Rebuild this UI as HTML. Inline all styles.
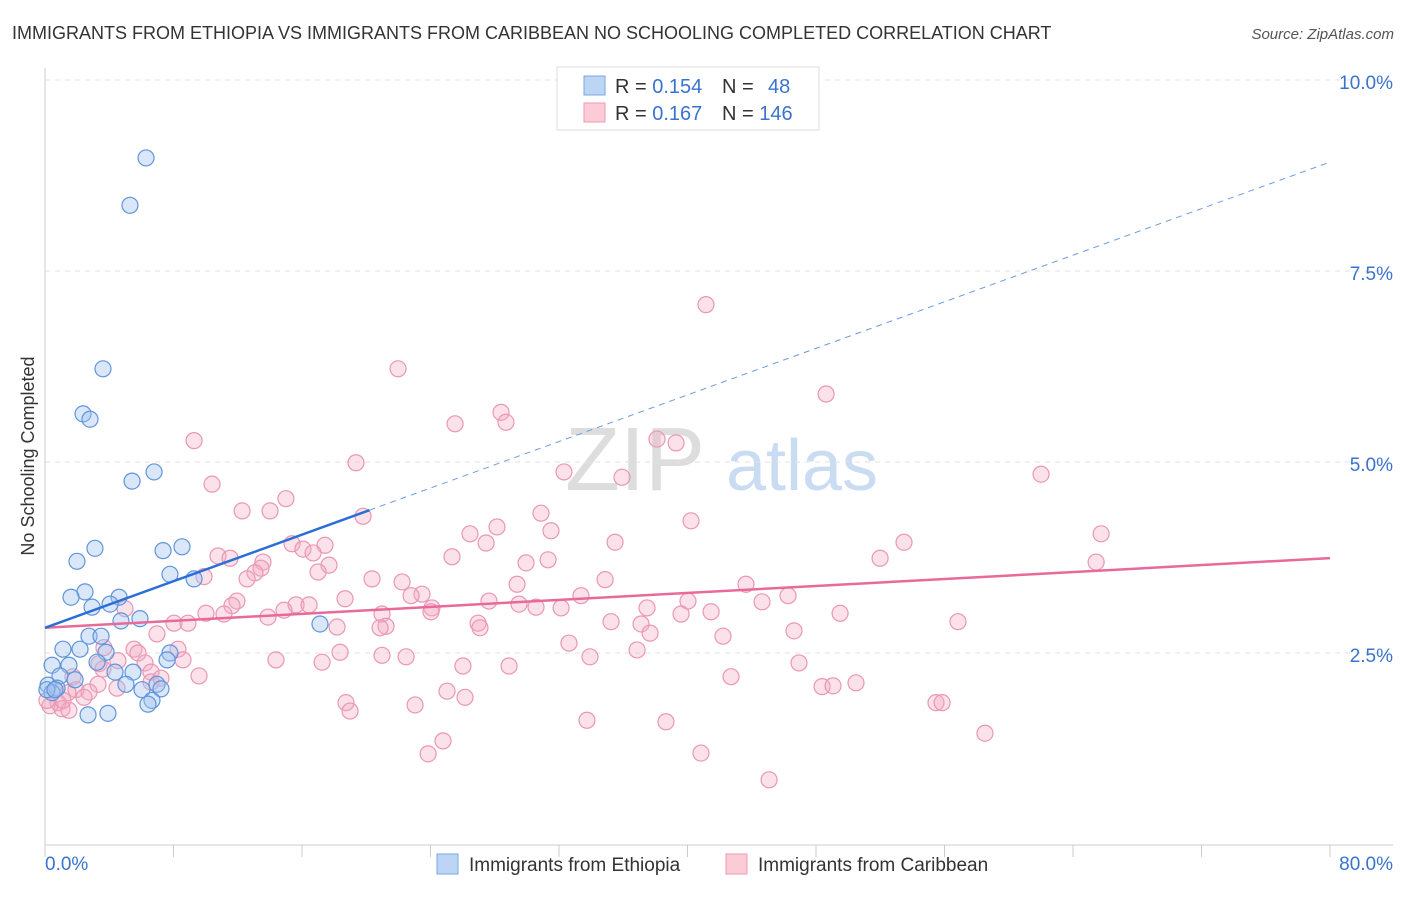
<!DOCTYPE html>
<html><head><meta charset="utf-8"><style>
body{margin:0;background:#fff;font-family:"Liberation Sans",sans-serif}
svg text{font-family:"Liberation Sans",sans-serif}
</style></head><body>
<svg id="chart" width="1406" height="892">
<text x="12" y="39" font-size="18" fill="#333">IMMIGRANTS FROM ETHIOPIA VS IMMIGRANTS FROM CARIBBEAN NO SCHOOLING COMPLETED CORRELATION CHART</text>
<text x="1394" y="39" font-size="15" fill="#555" font-style="italic" text-anchor="end">Source: ZipAtlas.com</text>
<text transform="translate(34,456) rotate(-90)" font-size="18" fill="#333" text-anchor="middle">No Schooling Completed</text>
<g><text x="635" y="490" font-size="90" fill="#ddd" font-family="Liberation Serif" text-anchor="middle">ZIP</text><text x="802" y="490" font-size="72" fill="#c9dcf2" text-anchor="middle">atlas</text></g>
<g id="grid"></g><g id="axes"></g><g id="marks"></g><g id="lines"></g>
<g>
<rect x="557" y="67" width="262" height="63" fill="#fff" stroke="#ddd"/>
<rect x="584" y="76" width="21" height="19" fill="#bcd5f5" stroke="#7aa7e5"/>
<rect x="584" y="103" width="21" height="19" fill="#fbcbd8" stroke="#ec9ab3"/>
<text x="615" y="93" font-size="20" fill="#333">R = <tspan fill="#3a73cf">0.154</tspan></text>
<text x="722" y="93" font-size="20" fill="#333">N = <tspan x="768" fill="#3a73cf">48</tspan></text>
<text x="615" y="120" font-size="20" fill="#333">R = <tspan fill="#3a73cf">0.167</tspan></text>
<text x="722" y="120" font-size="20" fill="#333">N = <tspan fill="#3a73cf">146</tspan></text>
</g>
<g>
<rect x="437" y="854" width="21" height="20" fill="#bcd5f5" stroke="#7aa7e5"/>
<text x="469" y="871" font-size="19" fill="#333">Immigrants from Ethiopia</text>
<rect x="726" y="854" width="21" height="20" fill="#fbcbd8" stroke="#ec9ab3"/>
<text x="758" y="871" font-size="19" fill="#333">Immigrants from Caribbean</text>
</g>
</svg>
<script>
const blueX=[6.29,5.29,3.61,2.37,2.80,6.79,5.42,1.99,3.11,7.35,8.53,7.78,9.28,2.49,1.62,2.93,4.61,4.05,5.91,4.73,17.12,2.74,3.49,1.12,2.18,3.80,7.78,7.60,0.44,1.49,3.24,5.48,4.36,0.93,1.87,0.19,0.75,0.44,5.04,6.97,7.22,6.04,6.66,6.41,2.68,3.92,0.12,0.62];
const blueY=[8.98,8.36,6.22,5.63,5.56,4.87,4.75,3.70,3.87,3.84,3.89,3.53,3.47,3.30,3.23,3.10,3.23,3.14,2.95,2.92,2.88,2.72,2.72,2.55,2.55,2.51,2.50,2.41,2.34,2.34,2.38,2.25,2.25,2.20,2.15,2.08,2.04,1.98,2.09,2.09,2.03,2.02,1.88,1.83,1.69,1.71,2.02,2.02];
const pinkX=[41.15,21.98,48.63,28.39,28.70,25.53,9.28,38.10,39.29,19.36,32.31,62.01,35.92,10.40,15.00,12.27,14.01,30.88,19.80,40.22,28.14,26.46,65.75,31.50,27.46,35.49,15.38,17.43,53.48,10.77,11.52,13.57,16.06,16.69,25.34,29.95,31.32,51.99,65.44,17.68,17.00,13.45,13.07,9.90,12.58,20.36,29.39,22.23,34.87,43.64,23.47,22.79,18.68,33.37,27.64,40.03,46.26,29.51,44.64,11.95,11.64,15.63,16.44,10.02,11.14,14.88,13.88,24.09,24.03,30.57,32.13,37.48,39.60,41.47,49.50,4.98,20.98,21.23,20.86,18.18,8.03,8.90,26.96,27.08,35.24,37.11,56.84,37.67,6.97,42.21,46.63,32.62,3.67,5.54,8.28,5.79,18.37,20.98,22.48,36.86,33.93,14.38,8.59,6.23,17.25,26.02,28.89,4.54,3.36,3.61,6.60,1.74,9.59,42.71,46.94,48.38,49.06,50.49,4.48,3.30,6.60,7.22,1.93,2.74,1.43,25.03,26.15,18.74,18.99,23.04,0.81,0.31,1.06,1.49,2.43,55.47,55.85,33.74,38.66,58.52,24.78,23.85,40.84,45.08,0.62,1.12,0.12];
const pinkY=[7.06,6.22,5.89,5.65,5.52,5.50,5.28,5.30,5.25,4.99,4.87,4.84,4.80,4.71,4.52,4.36,4.36,4.33,4.29,4.23,4.15,4.06,4.06,4.10,3.94,3.95,3.93,3.91,3.95,3.77,3.74,3.69,3.86,3.81,3.76,3.68,3.72,3.74,3.69,3.65,3.56,3.61,3.55,3.50,3.47,3.47,3.40,3.43,3.46,3.40,3.27,3.25,3.21,3.25,3.18,3.18,3.25,3.14,3.17,3.18,3.12,3.13,3.13,3.02,3.01,3.06,2.97,3.09,3.04,3.10,3.09,3.09,3.01,3.04,3.02,3.08,3.01,2.85,2.83,2.84,2.89,2.89,2.89,2.83,2.91,2.88,2.91,2.76,2.75,2.72,2.79,2.63,2.57,2.55,2.55,2.50,2.51,2.47,2.45,2.54,2.45,2.41,2.41,2.37,2.38,2.33,2.33,2.40,2.36,2.29,2.25,2.19,2.20,2.19,2.37,2.06,2.07,2.11,2.04,2.09,2.12,2.17,2.02,1.99,1.98,2.00,1.92,1.85,1.74,1.82,1.85,1.81,1.77,1.75,1.92,1.85,1.85,1.62,1.60,1.45,1.35,1.18,1.19,0.84,2.02,1.88,1.88];
const blueFit=[2.83,0.0762];
const pinkFit=[2.83,0.0114];
const yTicks=[2.5,5.0,7.5,10.0];
const xTickLabels=["0.0%","80.0%"];
const NS="http://www.w3.org/2000/svg";
const sx=v=>45+v*(1285/80);
const sy=v=>844-v*76.4;
function mk(t,a,p){const e=document.createElementNS(NS,t);for(const k in a)e.setAttribute(k,a[k]);p.appendChild(e);return e;}
const grid=document.getElementById('grid'),axes=document.getElementById('axes'),marks=document.getElementById('marks'),lines=document.getElementById('lines');
yTicks.forEach(v=>{
 const l=mk('line',{x1:45,x2:1393,y1:sy(v),y2:sy(v),stroke:'#e2e2e2','stroke-dasharray':'5,5'},grid);
 
 
 const t=mk('text',{x:1393,y:sy(v)+24*(v===10?0.3:0.3)+2,'font-size':19,fill:'#3a73cf','text-anchor':'end'},axes);
 t.textContent=v.toFixed(1)+'%';
 
 
});
let a=mk('line',{x1:45,x2:45,y1:68,y2:845,stroke:'#ccc'},axes);


a=mk('line',{x1:45,x2:1393,y1:845,y2:845,stroke:'#ccc'},axes);


for(let i=0;i<=10;i++){
 const t=mk('line',{x1:sx(i*8),x2:sx(i*8),y1:845,y2:857,stroke:'#ccc'},axes);
 
 
}
let xl=mk('text',{x:45,y:870,'font-size':19,fill:'#3a73cf'},axes);xl.textContent=xTickLabels[0];


xl=mk('text',{x:1393,y:870,'font-size':19,fill:'#3a73cf','text-anchor':'end'},axes);xl.textContent=xTickLabels[1];


pinkX.forEach((x,i)=>{
 const c=mk('circle',{cx:sx(x),cy:sy(pinkY[i]),r:8,fill:'rgba(244,170,195,0.35)',stroke:'#ea97b2','stroke-width':1.2},marks);
 
 
});
blueX.forEach((x,i)=>{
 const c=mk('circle',{cx:sx(x),cy:sy(blueY[i]),r:8,fill:'rgba(160,195,240,0.4)',stroke:'#5f95dc','stroke-width':1.2},marks);
 
 
});
let L=mk('line',{x1:sx(0),y1:sy(pinkFit[0]),x2:sx(80),y2:sy(pinkFit[0]+pinkFit[1]*80),stroke:'#e8699a','stroke-width':2.5},lines);


L=mk('line',{x1:sx(0),y1:sy(blueFit[0]),x2:sx(20.2),y2:sy(blueFit[0]+blueFit[1]*20.2),stroke:'#2b6fd6','stroke-width':2.5},lines);


L=mk('line',{x1:sx(20.2),y1:sy(blueFit[0]+blueFit[1]*20.2),x2:sx(80),y2:sy(blueFit[0]+blueFit[1]*80),stroke:'#6a9be0','stroke-width':1,'stroke-dasharray':'6,5'},lines);


</script>
</body></html>
